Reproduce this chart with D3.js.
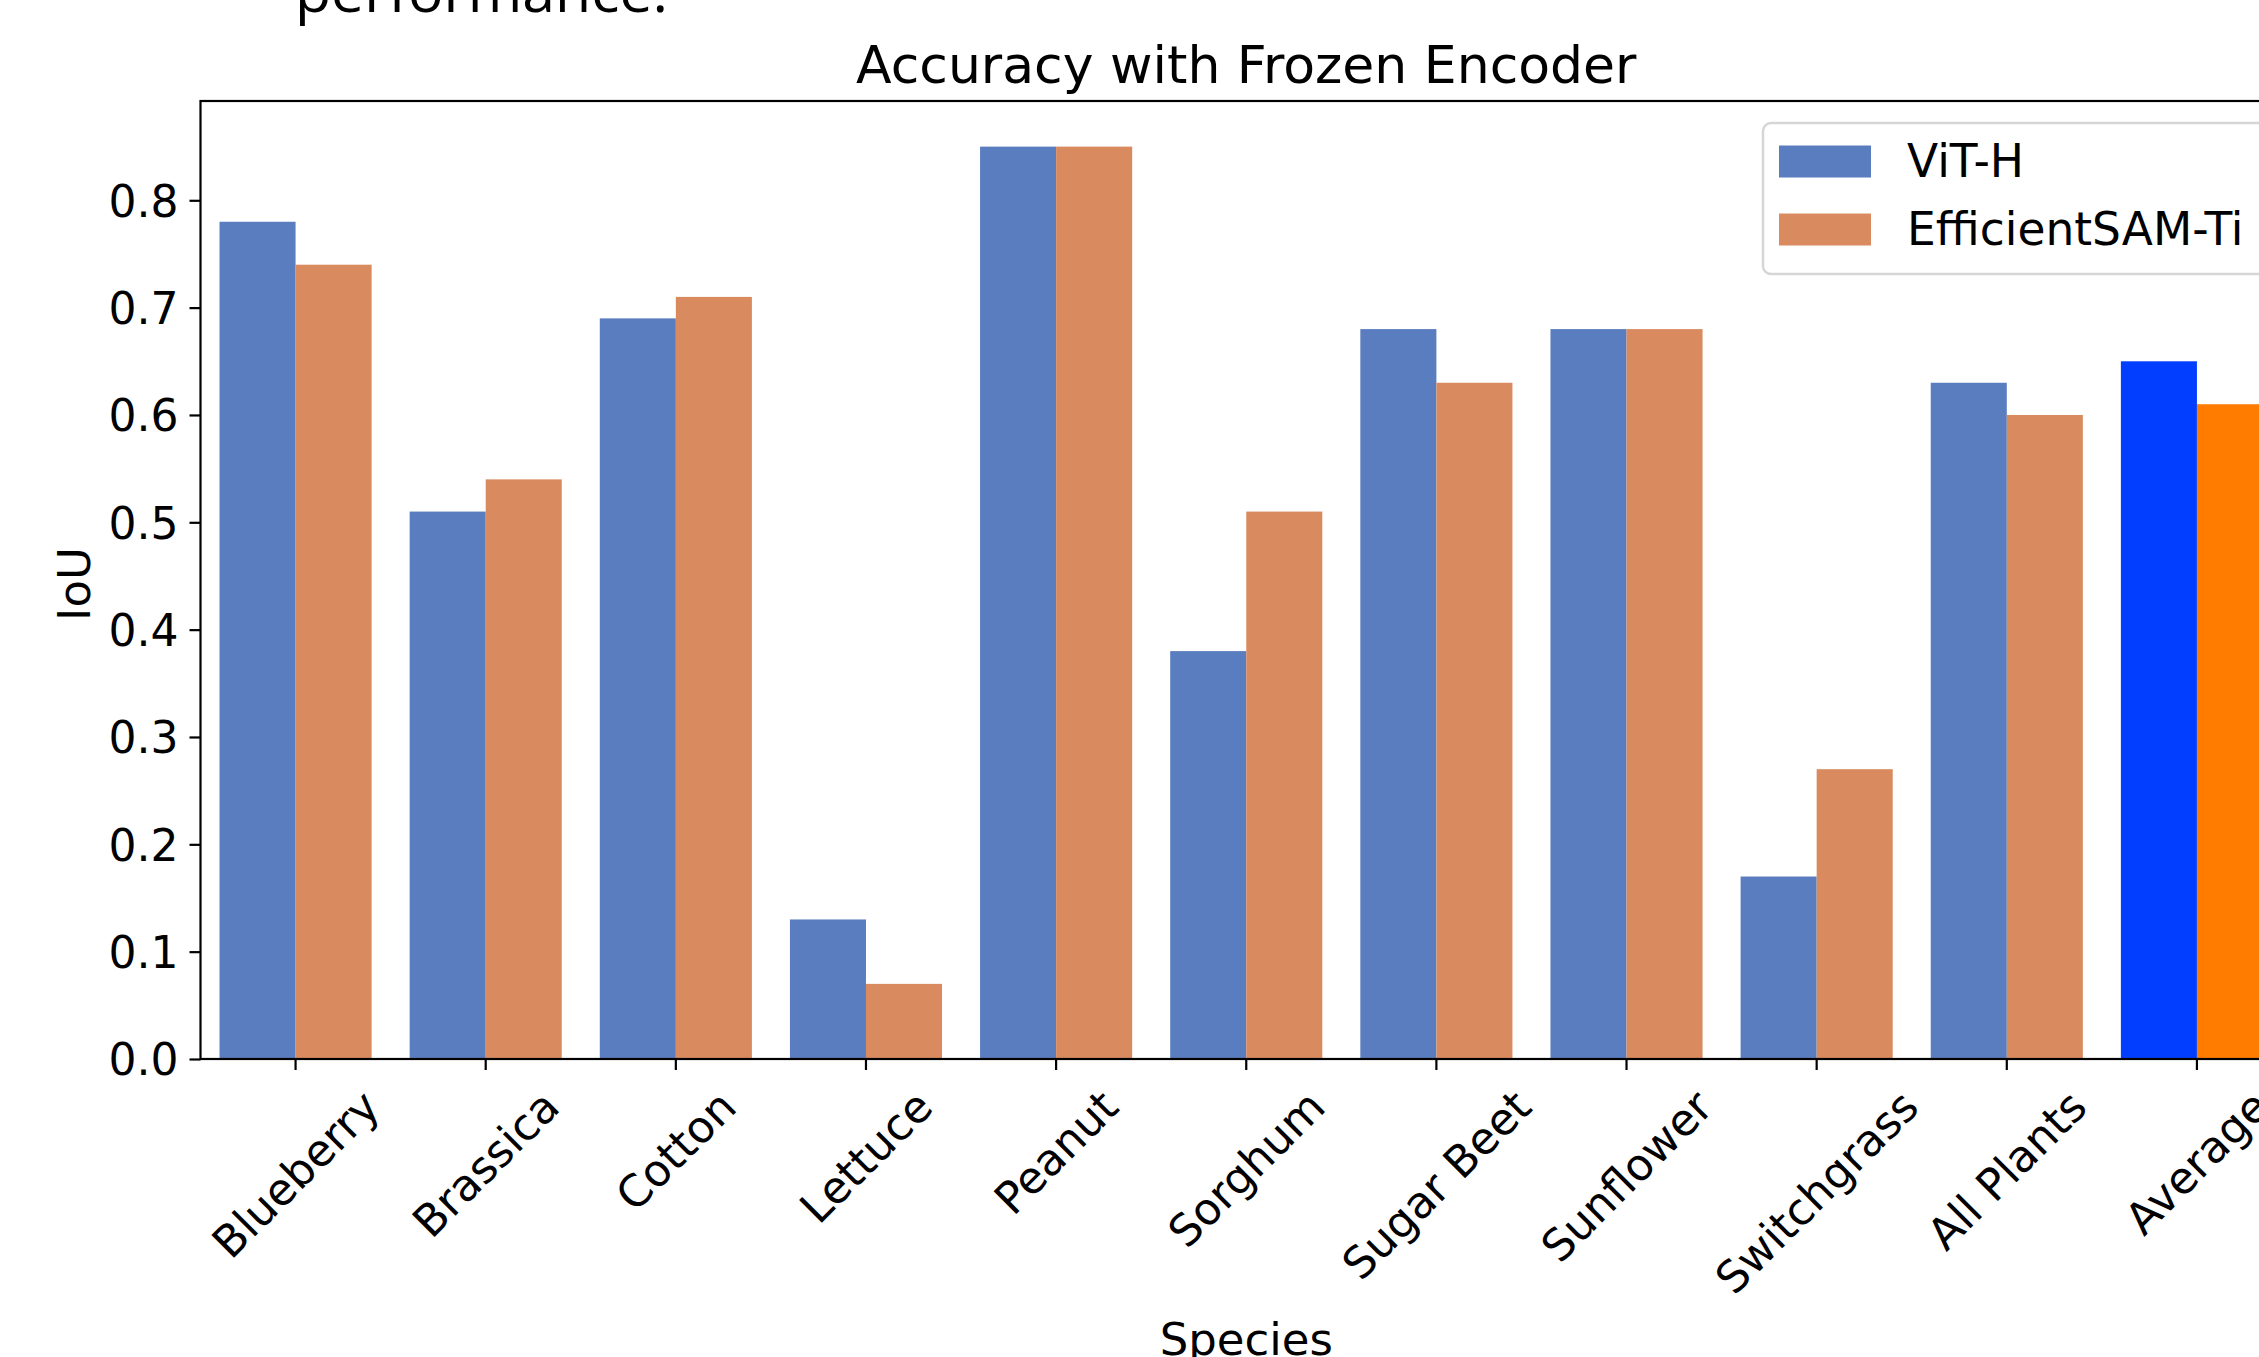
<!DOCTYPE html>
<html>
<head>
<meta charset="utf-8">
<script src="https://cdn.jsdelivr.net/npm/d3@7"></script>
<style>
  body { margin: 0; background: #fff; overflow: hidden; }
  svg { display: block; font-family: "DejaVu Sans", sans-serif; }
</style>
</head>
<body>
<svg id="chart" width="2259" height="1357"></svg>
<script>
// data
var categories = ["Blueberry", "Brassica", "Cotton", "Lettuce", "Peanut", "Sorghum",
  "Sugar Beet", "Sunflower", "Switchgrass", "All Plants", "Average"];
var seriesNames = ["ViT-H", "EfficientSAM-Ti"];
var vitH = [0.78, 0.51, 0.69, 0.13, 0.85, 0.38, 0.68, 0.68, 0.17, 0.63, 0.65];
var effSamTi = [0.74, 0.54, 0.71, 0.07, 0.85, 0.51, 0.63, 0.68, 0.27, 0.60, 0.61];
var yTicks = [0.0, 0.1, 0.2, 0.3, 0.4, 0.5, 0.6, 0.7, 0.8];

var normalColors = ["#5a7dbf", "#d98b5f"];
var highlightColors = ["#023eff", "#ff7c00"];
var highlightCat = "Average";

var svg = d3.select("#chart");
var margin = { top: 101, left: 200.5, bottom: 1059, right: 2292 };

var rows = categories.map(function (c, i) {
  return { name: c, values: [vitH[i], effSamTi[i]] };
});

var x = d3.scaleBand()
  .domain(categories)
  .range([margin.left, margin.right])
  .padding(0);

var xs = d3.scaleBand()
  .domain(seriesNames)
  .range([x.bandwidth() * 0.1, x.bandwidth() * 0.9]);

var y = d3.scaleLinear()
  .domain([0, 0.85 * 1.05])
  .range([margin.bottom, margin.top]);

// text cut off at the top of the page
svg.append("text")
  .attr("x", 295)
  .attr("y", 12)
  .attr("font-family", "Open Sans")
  .attr("font-size", 56)
  .attr("textLength", 373)
  .attr("lengthAdjust", "spacingAndGlyphs")
  .text("performance.");

// bars
var groups = svg.append("g")
  .selectAll("g")
  .data(rows)
  .enter().append("g")
  .attr("transform", function (d) { return "translate(" + x(d.name) + ",0)"; });

groups.selectAll("rect")
  .data(function (d) {
    return d.values.map(function (v, k) {
      return { cat: d.name, key: seriesNames[k], k: k, value: v };
    });
  })
  .enter().append("rect")
  .attr("x", function (d) { return xs(d.key); })
  .attr("width", xs.bandwidth())
  .attr("y", function (d) { return y(d.value); })
  .attr("height", function (d) { return y(0) - y(d.value); })
  .attr("fill", function (d) {
    return d.cat === highlightCat ? highlightColors[d.k] : normalColors[d.k];
  });

// axes
var xAxis = svg.append("g")
  .attr("transform", "translate(0," + margin.bottom + ")")
  .call(d3.axisBottom(x).tickSize(11).tickSizeOuter(0).tickPadding(11));
xAxis.select(".domain").remove();
xAxis.selectAll(".tick line").attr("stroke", "#000").attr("stroke-width", 2.2);
xAxis.selectAll(".tick text")
  .attr("font-size", 44)
  .attr("font-family", "DejaVu Sans")
  .attr("fill", "#000")
  .attr("dy", null)
  .attr("text-anchor", "middle")
  .attr("dominant-baseline", "central")
  .attr("y", null)
  .attr("transform", function () {
    var w = this.getComputedTextLength();
    var h = 44;
    var c = 24 + (w + h) / (2 * Math.SQRT2);
    return "translate(0," + c + ") rotate(-45)";
  });

var yAxis = svg.append("g")
  .attr("transform", "translate(" + margin.left + ",0)")
  .call(d3.axisLeft(y).tickValues(yTicks).tickFormat(d3.format(".1f"))
    .tickSize(11).tickSizeOuter(0).tickPadding(11));
yAxis.select(".domain").remove();
yAxis.selectAll(".tick line").attr("stroke", "#000").attr("stroke-width", 2.2);
yAxis.selectAll(".tick text")
  .attr("font-size", 44)
  .attr("font-family", "DejaVu Sans")
  .attr("fill", "#000")
  .attr("dy", "0.36em");

// frame
svg.append("rect")
  .attr("x", margin.left)
  .attr("y", margin.top)
  .attr("width", margin.right - margin.left)
  .attr("height", margin.bottom - margin.top)
  .attr("fill", "none")
  .attr("stroke", "#000")
  .attr("stroke-width", 2.2);

// title and axis labels
svg.append("text")
  .attr("x", (margin.left + margin.right) / 2)
  .attr("y", 83)
  .attr("text-anchor", "middle")
  .attr("font-size", 52)
  .text("Accuracy with Frozen Encoder");

svg.append("text")
  .attr("x", (margin.left + margin.right) / 2)
  .attr("y", 1355)
  .attr("text-anchor", "middle")
  .attr("font-size", 45)
  .text("Species");

svg.append("text")
  .attr("transform", "translate(90,584) rotate(-90)")
  .attr("text-anchor", "middle")
  .attr("font-size", 45)
  .text("IoU");

// legend
var legend = svg.append("g").attr("transform", "translate(1763,123)");
legend.append("rect")
  .attr("width", 510)
  .attr("height", 151)
  .attr("rx", 8)
  .attr("fill", "#fff")
  .attr("fill-opacity", 0.8)
  .attr("stroke", "#d6d6d6")
  .attr("stroke-width", 2.5);

var items = legend.selectAll("g.item")
  .data(seriesNames)
  .enter().append("g")
  .attr("class", "item")
  .attr("transform", function (d, i) { return "translate(0," + (i * 68) + ")"; });

items.append("rect")
  .attr("x", 16)
  .attr("y", 22.5)
  .attr("width", 92)
  .attr("height", 32)
  .attr("fill", function (d, i) { return normalColors[i]; });

items.append("text")
  .attr("x", 144)
  .attr("y", 53.5)
  .attr("font-size", 45.5)
  .text(function (d) { return d; });
</script>
</body>
</html>
